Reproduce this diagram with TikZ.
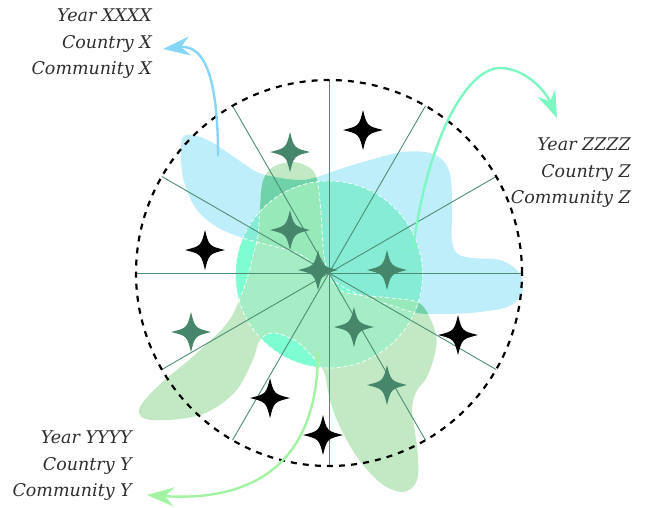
\documentclass[tikz,border=0pt]{standalone}
\usepackage{fontspec}
\setmainfont{DejaVu Serif}
\usetikzlibrary{arrows.meta}

% fills of the three regions and of their overlaps
\definecolor{blobB}{HTML}{BEEEFA}
\definecolor{blobG}{HTML}{C2E9C4}
\definecolor{blobGB}{HTML}{6FD2A9}
\definecolor{discC}{HTML}{7FFDD2}
\definecolor{discCB}{HTML}{87ECD5}
\definecolor{discCG}{HTML}{A5EDC4}
\definecolor{discCGB}{HTML}{97E9BA}
\definecolor{spokeC}{HTML}{4E8E74}
\definecolor{starG}{HTML}{46866A}
\definecolor{arrX}{HTML}{86D6F8}
\definecolor{arrZ}{HTML}{7EF8C2}
\definecolor{arrY}{HTML}{A2F4A2}
\definecolor{labelC}{HTML}{2E2E2E}

% outlines of the two free-form regions
\newcommand{\bluepath}{plot[smooth cycle, tension=0.6] coordinates {
 (183,137) (197,136) (213,143) (237,159) (257,172) (275,177) (300,180)
 (317,177) (343,168) (370,160) (403,152) (430,153) (445,163) (451,180)
 (452,213) (452,241) (458,254) (473,258) (500,260) (517,270) (523,283)
 (520,297) (507,307) (480,312) (447,314) (417,313) (390,305) (360,295)
 (340,285) (317,267) (297,253) (257,242) (240,237) (217,227) (197,210)
 (185,185) (181,160)}}
\newcommand{\greenpath}{plot[smooth cycle, tension=0.6] coordinates {
 (293,162) (310,168) (317,180) (321,213) (323,247) (327,270) (334,284)
 (347,293) (390,298) (417,302) (428,314) (436,335) (435,353) (427,377)
 (416,392) (412,410) (415,432) (418,457) (417,480) (407,491) (393,490)
 (377,480) (357,457) (340,427) (330,400) (325,375) (320,365) (311,355)
 (296,341) (274,333) (260,340) (252,362) (234,393) (200,415) (152,420)
 (139,410) (157,387) (197,353) (228,322) (242,293) (249,272) (254,252)
 (258,236) (260,207) (263,181) (273,167)}}
\newcommand{\discpath}{(329,274.5) circle[radius=93.5pt]}

\tikzset{
  spoke/.style={spokeC, line width=0.9pt},
  seam/.style={white, line width=0.8pt, dash pattern=on 4pt off 2.5pt, opacity=0.9},
  ring/.style={black, line width=2.2pt, dash pattern=on 6pt off 6.1pt},
  flow/.style={line width=2.4pt, -{Stealth[length=27pt, width=19pt, inset=9pt]}},
  caption/.style={font=\fontsize{17.5}{26.5}\selectfont\itshape, text=labelC,
    align=right, anchor=east, inner sep=0pt},
  sparkle/.pic={\fill[#1] (0,-20) .. controls (4,-4) .. (20,0)
    .. controls (4,4) .. (0,20) .. controls (-4,4) .. (-20,0)
    .. controls (-4,-4) .. cycle;}
}

\begin{document}
\begin{tikzpicture}[x=1pt, y=-1pt]
\useasboundingbox (0,0) rectangle (645,507);

% free-form regions and their overlap
\fill[blobB] \bluepath;
\fill[blobG] \greenpath;
\begin{scope}
  \clip \bluepath;
  \fill[blobGB] \greenpath;
\end{scope}

% central disc with its overlaps
\fill[discC] \discpath;
\begin{scope}
  \clip \discpath;
  \fill[discCB] \bluepath;
  \fill[discCG] \greenpath;
  \clip \bluepath;
  \fill[discCGB] \greenpath;
\end{scope}
\begin{scope}
  \clip \discpath;
  \draw[seam] \bluepath;
  \draw[seam] \greenpath;
\end{scope}
\draw[seam] \discpath;

% spokes
\coordinate (O) at (329,273);
\foreach \a in {0,30,...,330}
  \draw[spoke] (O) -- ++(\a:193);

% sparkles
\pic at (290,152) {sparkle=starG};
\pic at (290,230) {sparkle=starG};
\pic at (318,270) {sparkle=starG};
\pic at (387,270) {sparkle=starG};
\pic at (354,327) {sparkle=starG};
\pic at (387,385) {sparkle=starG};
\pic at (191,332) {sparkle=starG};
\pic at (363,130) {sparkle=black};
\pic at (205,250) {sparkle=black};
\pic at (458,335) {sparkle=black};
\pic at (270,398) {sparkle=black};
\pic at (323,435) {sparkle=black};

% outer dashed ring
\draw[ring] (O) circle[radius=193pt];

% labels
\node[caption] (lx) at (152,44) {Year XXXX\\Country X\\Community X};
\node[caption] (lz) at (631,173) {Year ZZZZ\\Country Z\\Community Z};
\node[caption] (ly) at (132,466) {Year YYYY\\Country Y\\Community Y};

% arrows from the regions towards their labels
\coordinate (sx) at (218,156);
\coordinate (ex) at (163,49);
\coordinate (sz) at (413,249);
\coordinate (tz) at (500,68);
\coordinate (ez) at (557,118);
\coordinate (sy) at (318,352);
\coordinate (ey) at (147,495);
\draw[flow, arrX] (sx) .. controls (218,85) and (207,44) .. (ex);
\draw[flow, arrZ] (sz) .. controls (428,135) and (468,68) .. (tz)
  .. controls (526,68) and (546,92) .. (ez);
\draw[flow, arrY] (sy) .. controls (318,462) and (255,502) .. (ey);
\end{tikzpicture}
\end{document}
